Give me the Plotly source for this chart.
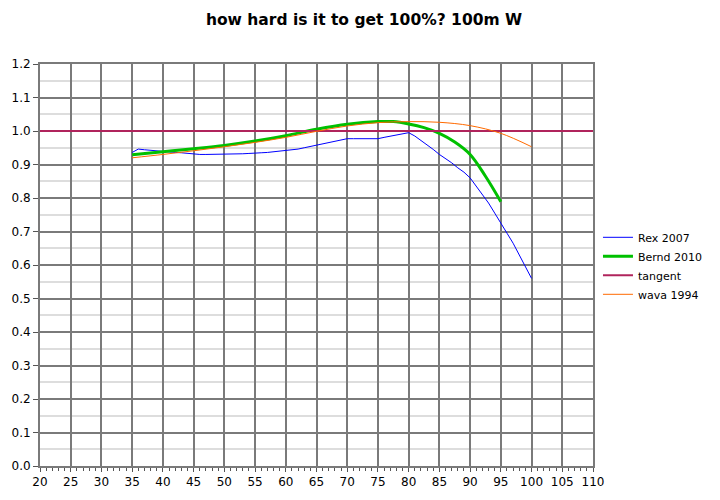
import plotly.graph_objects as go

rex_x = list(range(35, 101))
rex_y = [0.936, 0.946, 0.944, 0.942, 0.940, 0.938, 0.937, 0.936, 0.935, 0.933,
         0.930, 0.930, 0.930, 0.930, 0.930, 0.930, 0.930, 0.930, 0.932, 0.933,
         0.933, 0.935, 0.936, 0.938, 0.939, 0.940, 0.943, 0.946, 0.950, 0.954,
         0.958, 0.961, 0.964, 0.969, 0.974, 0.977, 0.977, 0.977, 0.977, 0.977,
         0.977, 0.981, 0.985, 0.989, 0.992, 0.995, 0.985, 0.972, 0.960, 0.945,
         0.930, 0.918, 0.905, 0.890, 0.877, 0.860, 0.835, 0.810, 0.785, 0.755,
         0.727, 0.695, 0.665, 0.630, 0.598, 0.560]

bernd_x = [35, 40, 45, 50, 55, 60, 65, 70, 75, 77.5, 80, 82.5, 85, 87.5, 90, 92.5, 95]
bernd_y = [0.929, 0.938, 0.947, 0.957, 0.970, 0.986, 1.005, 1.020, 1.028, 1.028,
           1.021, 1.010, 0.993, 0.967, 0.930, 0.865, 0.789]

tangent_x = [20, 110]
tangent_y = [1.0, 1.0]

wava_x = [35, 40, 45, 50, 55, 60, 65, 70, 75, 80, 85, 90, 95, 100]
wava_y = [0.920, 0.930, 0.941, 0.953, 0.966, 0.981, 0.999, 1.015, 1.025, 1.028,
          1.026, 1.016, 0.993, 0.953]

title = "how hard is it to get 100%? 100m W"
FONT = "DejaVu Sans, Verdana, sans-serif"

fig = go.Figure()
fig.add_trace(go.Scatter(x=rex_x, y=rex_y, mode="lines", name="Rex 2007",
                         line=dict(color="#0000ff", width=1)))
fig.add_trace(go.Scatter(x=bernd_x, y=bernd_y, mode="lines", name="Bernd 2010",
                         line=dict(color="#00c000", width=3, shape="spline")))
fig.add_trace(go.Scatter(x=tangent_x, y=tangent_y, mode="lines", name="tangent",
                         line=dict(color="#b0245c", width=2)))
fig.add_trace(go.Scatter(x=wava_x, y=wava_y, mode="lines", name="wava 1994",
                         line=dict(color="#ff6a00", width=1, shape="spline")))

fig.update_layout(
    width=712, height=492,
    margin=dict(l=32, r=125, t=56, b=34),
    paper_bgcolor="white", plot_bgcolor="white",
    font=dict(family=FONT, size=11, color="black"),
    title=dict(text=title, x=0.5, xref="container", xanchor="center",
               y=0.976, yref="container", yanchor="middle",
               font=dict(family=FONT, size=15.5, color="black", weight="bold")),
    showlegend=True,
    legend=dict(x=1.009, xanchor="left", xref="paper", y=0.498, yanchor="middle",
                font=dict(size=11), tracegroupgap=0, itemwidth=30,
                bgcolor="rgba(0,0,0,0)"),
    xaxis=dict(range=[20, 110], tick0=20, dtick=5, showgrid=True,
               gridcolor="#7a7a7a", gridwidth=2, showline=True,
               linecolor="#7a7a7a", linewidth=2, mirror=True,
               ticks="outside", ticklen=4, tickcolor="#555555",
               minor=dict(dtick=1, ticks="outside", ticklen=3, tickcolor="#555555",
                          showgrid=False),
               zeroline=False, tickfont=dict(size=12), automargin=False),
    yaxis=dict(range=[0, 1.2], tick0=0, dtick=0.1, tickformat=".1f",
               showgrid=True, gridcolor="#7a7a7a", gridwidth=2,
               showline=True, linecolor="#7a7a7a", linewidth=2, mirror=True,
               ticks="outside", ticklen=5, tickcolor="#555555",
               minor=dict(dtick=0.05, showgrid=True, gridcolor="#dddddd",
                          gridwidth=2),
               zeroline=False, tickfont=dict(size=12), automargin=False),
)

fig.write_html("out.html")
